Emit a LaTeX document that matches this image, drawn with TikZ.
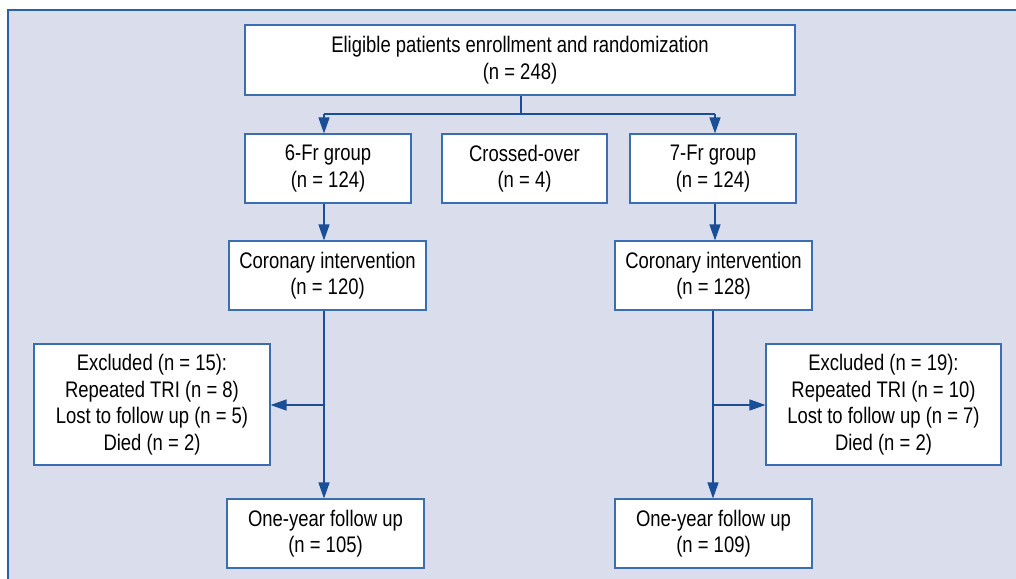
\documentclass[tikz,border=0pt]{standalone}
\usepackage{fontspec}
\setmainfont{Liberation Sans}[FakeStretch=0.82]
\usetikzlibrary{arrows.meta}
\definecolor{panel}{HTML}{DADEEC}
\definecolor{frame}{HTML}{2A62A8}
\definecolor{boxline}{HTML}{3A6EB0}
\definecolor{arrowc}{HTML}{1A4E96}
\tikzset{
  box/.style={draw=boxline, line width=1.1pt, fill=white, align=center,
    inner sep=0pt, font=\fontsize{22.5}{26.5}\selectfont, text=black},
  arr/.style={draw=arrowc, line width=1.3pt, -{Triangle[length=16pt,width=11pt]}},
  ln/.style={draw=arrowc, line width=1.3pt}
}
\begin{document}
\begin{tikzpicture}[x=1pt,y=-1pt]
\useasboundingbox (0,0) rectangle (1016,578);
\fill[panel] (8,10) rectangle (1020,582);
\draw[frame, line width=1.2pt] (8,582) -- (8,10) -- (1020,10);

\node[box, minimum width=550, minimum height=70] (top) at (520,60)
  {Eligible patients enrollment and randomization\\(n = 248)};
\node[box, minimum width=166, minimum height=69] (g6) at (328,168.5)
  {6-Fr group\\(n = 124)};
\node[box, minimum width=165, minimum height=69] (cr) at (524.5,168.5)
  {Crossed-over\\(n = 4)};
\node[box, minimum width=166, minimum height=69] (g7) at (713,168.5)
  {7-Fr group\\(n = 124)};
\node[box, minimum width=197, minimum height=69] (c6) at (327.5,275.5)
  {Coronary intervention\\(n = 120)};
\node[box, minimum width=197, minimum height=69] (c7) at (713.5,275.5)
  {Coronary intervention\\(n = 128)};
\node[box, minimum width=236, minimum height=121] (e6) at (152,404.5)
  {Excluded (n = 15):\\Repeated TRI (n = 8)\\Lost to follow up (n = 5)\\Died (n = 2)};
\node[box, minimum width=235, minimum height=121] (e7) at (883.5,404.5)
  {Excluded (n = 19):\\Repeated TRI (n = 10)\\Lost to follow up (n = 7)\\Died (n = 2)};
\node[box, minimum width=197, minimum height=69] (o6) at (325.5,533.5)
  {One-year follow up\\(n = 105)};
\node[box, minimum width=197, minimum height=69] (o7) at (713.5,533.5)
  {One-year follow up\\(n = 109)};

\coordinate (L) at (324,0);
\coordinate (R) at (715,0);
\coordinate (R2) at (713,0);
\coordinate (M) at (521,0);
\coordinate (split) at (521,114);
\coordinate (bl) at (324,114);
\coordinate (br) at (715,114);
\coordinate (jl) at (324,405);
\coordinate (jr) at (713,405);

\draw[ln] (top.south -| M) -- (split);
\draw[ln] (bl) -- (br);
\draw[arr] (bl) -- (g6.north -| L);
\draw[arr] (br) -- (g7.north -| R);
\draw[arr] (g6.south -| L) -- (c6.north -| L);
\draw[arr] (g7.south -| R) -- (c7.north -| R);
\draw[arr] (c6.south -| L) -- (o6.north -| L);
\draw[arr] (c7.south -| R2) -- (o7.north -| R2);
\draw[arr] (jl) -- (e6.east |- jl);
\draw[arr] (jr) -- (e7.west |- jr);
\end{tikzpicture}
\end{document}
